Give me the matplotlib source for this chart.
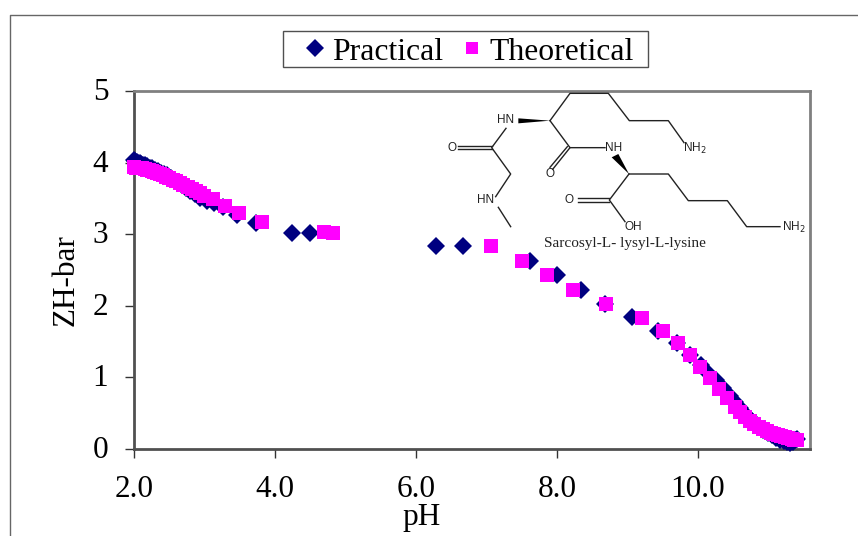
import matplotlib
matplotlib.use('Agg')
import matplotlib.pyplot as plt
from matplotlib.lines import Line2D
from matplotlib.patches import Polygon, Rectangle
from matplotlib.transforms import ScaledTranslation

plt.rcParams['font.family'] = ['Liberation Serif']

# Values
ph_practical = [2.0, 2.02, 2.04, 2.06, 2.08, 2.1, 2.13, 2.16, 2.19, 2.22, 2.26, 2.3, 2.34, 2.38, 2.42, 2.47, 2.52,
                2.57, 2.62, 2.68, 2.74, 2.8, 2.87, 2.94, 3.03, 3.14, 3.26, 3.46, 3.73, 4.24, 4.5, 6.28, 6.67,
                7.62, 8.0, 8.34, 8.68, 9.07, 9.43, 9.7, 9.89, 10.05, 10.15, 10.25, 10.35, 10.45, 10.52, 10.6,
                10.68, 10.76, 10.84, 10.92, 10.99, 11.05, 11.11, 11.17, 11.22, 11.27, 11.31, 11.35, 11.38, 11.41]
zh_practical = [4.03, 4.02, 4.01, 4.0, 3.99, 3.98, 3.97, 3.96, 3.95, 3.93, 3.92, 3.9, 3.88, 3.86, 3.84, 3.82, 3.79,
                3.76, 3.73, 3.69, 3.65, 3.61, 3.56, 3.51, 3.46, 3.43, 3.38, 3.27, 3.15, 3.02, 3.02, 2.84, 2.83,
                2.63, 2.43, 2.22, 2.03, 1.84, 1.65, 1.48, 1.31, 1.17, 1.06, 0.96, 0.85, 0.74, 0.66, 0.57,
                0.48, 0.4, 0.33, 0.27, 0.22, 0.19, 0.16, 0.13, 0.11, 0.1, 0.09, 0.1, 0.12, 0.14]
ph_theoretical = [2.0, 2.03, 2.06, 2.09, 2.12, 2.15, 2.18, 2.21, 2.25, 2.29, 2.33, 2.37, 2.41, 2.45, 2.5, 2.55, 2.6,
                  2.65, 2.7, 2.76, 2.82, 2.88, 2.94, 2.99, 3.12, 3.29, 3.49, 3.81, 4.7, 4.82, 7.06, 7.5, 7.86,
                  8.23, 8.7, 9.2, 9.5, 9.72, 9.89, 10.03, 10.17, 10.3, 10.41, 10.52, 10.6, 10.67, 10.74, 10.8,
                  10.86, 10.92, 10.98, 11.03, 11.08, 11.13, 11.18, 11.23, 11.28, 11.33, 11.37, 11.4]
zh_theoretical = [3.94, 3.93, 3.93, 3.92, 3.92, 3.91, 3.9, 3.89, 3.88, 3.87, 3.85, 3.84, 3.82, 3.8, 3.78, 3.76, 3.74,
                  3.72, 3.69, 3.66, 3.63, 3.6, 3.57, 3.54, 3.49, 3.39, 3.3, 3.17, 3.03, 3.02, 2.83, 2.63, 2.43,
                  2.22, 2.03, 1.83, 1.65, 1.48, 1.31, 1.14, 0.99, 0.84, 0.71, 0.59, 0.51, 0.45, 0.39, 0.35,
                  0.31, 0.28, 0.25, 0.23, 0.21, 0.2, 0.18, 0.17, 0.16, 0.14, 0.13, 0.12]
x_ticks = [2, 4, 6, 8, 10]
y_ticks = [0, 1, 2, 3, 4, 5]

W, H = 858, 536
fig = plt.figure(figsize=(W / 100, H / 100), dpi=100)
ax = fig.add_axes([134 / W, 1 - 449 / H, (810 - 134) / W, (449 - 91) / H])

ax.plot(ph_practical, zh_practical, 'D', color='#000080', ms=9.6, mew=0, clip_on=False, zorder=3)
ax.plot(ph_theoretical, zh_theoretical, 's', color='#ff00ff', ms=10, mew=0, clip_on=False, zorder=4)

ax.set_xlim(2, 11.59)
ax.set_ylim(0, 5)
ax.set_xticks(x_ticks)
ax.set_xticklabels([f'{v:.1f}' for v in x_ticks])
ax.set_yticks(y_ticks)
ax.tick_params(axis='both', labelsize=22.5, length=6.5, width=1, color='#333333')
ax.tick_params(axis='y', pad=12)
ax.tick_params(axis='x', pad=12)
# y labels sit about 2 px higher than matplotlib centres them
for lab in ax.get_yticklabels():
    lab.set_transform(lab.get_transform() + ScaledTranslation(0, 2 / 100, fig.dpi_scale_trans))
ax.set_xlabel('pH', fontsize=22.5)
ax.xaxis.set_label_coords((422 - 134) / (810 - 134), (449 - 517) / (449 - 91), transform=ax.transAxes)
ax.xaxis.label.set_verticalalignment('center')
ax.set_ylabel('ZH-bar', fontsize=22.5)
ax.yaxis.set_label_coords((66 - 134) / (810 - 134), (449 - 280) / (449 - 91), transform=ax.transAxes)
ax.yaxis.label.set_verticalalignment('center')
for name, side in ax.spines.items():
    side.set_color('#808080' if name in ('top', 'right') else '#505050')
    side.set_linewidth(2)


# pixel helpers for the structure drawing (zoomed crop coords -> figure fraction)
def px(zx, zy):
    return ((430 + zx / 3) / W, 1 - (80 + zy / 3) / H)


def bond(*pts, lw=1.0):
    xs, ys = zip(*[px(*p) for p in pts])
    fig.add_artist(Line2D(xs, ys, color='#222222', lw=lw, zorder=6))


def wedge(tip, a, b):
    fig.add_artist(Polygon([px(*tip), px(*a), px(*b)], closed=True, transform=fig.transFigure,
                           color='black', lw=0, zorder=6))


def atom(zx, zy, s, size=8.5):
    x, y = px(zx, zy)
    fig.text(x, y, s, fontsize=size, family='Liberation Sans', ha='center', va='center', color='#222222', zorder=7)


bond((360, 122), (420, 40), (535, 40), (598, 122), (715, 122), (762, 188))
bond((360, 122), (420, 203), (525, 203))
bond((420, 203), (368, 268))
bond((412, 200), (360, 262))
bond((228, 145), (185, 203), (242, 282), (197, 350))
bond((185, 199), (85, 199))
bond((185, 208), (85, 208))
bond((205, 382), (242, 440))
bond((597, 282), (715, 282), (775, 362), (892, 362), (950, 440), (1050, 440))
bond((597, 282), (538, 360), (585, 425))
bond((538, 355), (445, 355))
bond((538, 365), (445, 365))
wedge((360, 122), (265, 115), (265, 130))
wedge((597, 282), (545, 232), (565, 222))
atom(228, 120, 'HN')
atom(552, 203, 'NH')
atom(65, 203, 'O')
atom(360, 282, 'O')
atom(168, 360, 'HN')
atom(418, 360, 'O')
atom(610, 440, 'OH')
atom(795, 205, 'NH$_2$')
atom(1090, 442, 'NH$_2$')
x, y = px(585, 492)
fig.text(x, y, 'Sarcosyl-L- lysyl-L-lysine', fontsize=11, ha='center', va='center', color='#222222', zorder=7)

# legend
fig.add_artist(Rectangle((283 / W, 1 - 67 / H), (648 - 283) / W, 36 / H, transform=fig.transFigure,
                         fc='white', ec='#505050', lw=1, zorder=5))
handles = [Line2D([], [], marker='D', ls='', color='#000080', ms=9, mew=0),
           Line2D([], [], marker='s', ls='', color='#ff00ff', ms=9, mew=0)]
leg = fig.legend(handles, ['Practical', 'Theoretical'], ncol=2, fontsize=22.8, loc='center left',
                 bbox_to_anchor=(305 / W, 1 - 52 / H), frameon=False, borderpad=0, borderaxespad=0,
                 handletextpad=0.26, columnspacing=0.59, handlelength=0.6)
leg.set_zorder(6)

# outer chart frame, cut off by the image edge on the right and bottom
fig.add_artist(Line2D([9.5 / W, 9.5 / W, 1], [0, 1 - 14.5 / H, 1 - 14.5 / H], color='#666666', lw=1))

fig.savefig('out.png', dpi=100)
